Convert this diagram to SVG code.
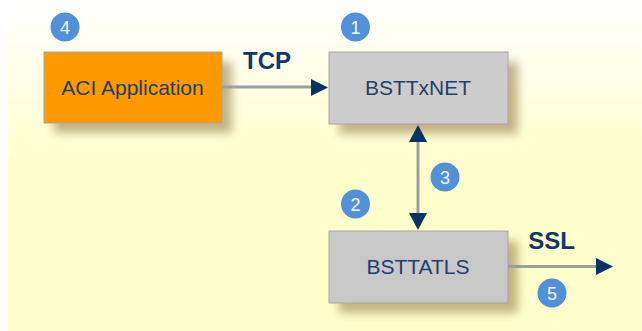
<svg xmlns="http://www.w3.org/2000/svg" width="642" height="331" viewBox="0 0 642 331">
<style>
.box{stroke:#a9a6a4;stroke-width:1}
.lbl{font-family:"Liberation Sans",Arial,sans-serif;font-size:21px;fill:#1f3f6e;text-anchor:middle}
.proto{font-family:"Liberation Sans",Arial,sans-serif;font-size:24px;font-weight:bold;fill:#0f386b;text-anchor:middle}
.num{font-family:"Liberation Sans",Arial,sans-serif;font-size:18px;fill:#f2f5fa;text-anchor:middle}
.badge{fill:#5291d8}
.line{stroke:#9a9fa3;stroke-width:3;fill:none}
.head{fill:#0a3264}
.shadow{fill:#9c8550;opacity:.62;filter:url(#blur)}
</style>
<defs>
<linearGradient id="bg" x1="0" y1="0" x2="0" y2="1"><stop offset="0" stop-color="#ffffff"/><stop offset="1" stop-color="#ffffcc"/></linearGradient>
<filter id="blur" x="-20%" y="-30%" width="140%" height="160%"><feGaussianBlur stdDeviation="5"/></filter>
</defs>
<rect width="642" height="331" fill="#ffffff"/>
<rect x="8" y="0" width="634" height="165" fill="url(#bg)"/>
<rect x="8" y="165" width="634" height="166" fill="#ffffcc"/>
<g id="node-aci">
<rect class="shadow" x="54" y="62" width="178" height="71"/>
<rect class="box" x="44" y="52" width="178" height="71" fill="#ff9900"/>
<text class="lbl" x="132.500" y="94.500">ACI Application</text>
</g>
<g id="node-bsttxnet">
<rect class="shadow" x="339" y="62" width="179" height="72"/>
<rect class="box" x="329" y="52" width="179" height="72" fill="#cccccc"/>
<text class="lbl" x="418" y="94.500">BSTTxNET</text>
</g>
<g id="node-bsttatls">
<rect class="shadow" x="339" y="241" width="179" height="72"/>
<rect class="box" x="329" y="231" width="179" height="72" fill="#c8c8c8"/>
<text class="lbl" x="418" y="273.500">BSTTATLS</text>
</g>
<g id="connectors">
<path class="line" d="M222 87H316"/><path class="head" d="M311 79L328 87.500L311 96Z"/>
<path class="line" d="M418 138V217"/><path class="head" d="M418 125L427 142H409Z"/><path class="head" d="M418 230L409 213H427Z"/>
<path class="line" d="M508 266.500H600"/><path class="head" d="M596 258L613 266.500L596 275Z"/>
</g>
<g id="label-tcp"><text class="proto" x="267" y="68.500">TCP</text></g>
<g id="label-ssl"><text class="proto" x="551.500" y="248.500">SSL</text></g>
<g id="badge-4"><circle class="badge" cx="65" cy="27" r="14.500"/><text class="num" x="65" y="33.500">4</text></g>
<g id="badge-1"><circle class="badge" cx="355.500" cy="27" r="14.500"/><text class="num" x="355.500" y="33.500">1</text></g>
<g id="badge-2"><circle class="badge" cx="355.500" cy="204" r="14.500"/><text class="num" x="355.500" y="210.500">2</text></g>
<g id="badge-3"><circle class="badge" cx="445" cy="177" r="14.500"/><text class="num" x="445" y="183.500">3</text></g>
<g id="badge-5"><circle class="badge" cx="552" cy="293" r="14.500"/><text class="num" x="552" y="299.500">5</text></g>
</svg>
